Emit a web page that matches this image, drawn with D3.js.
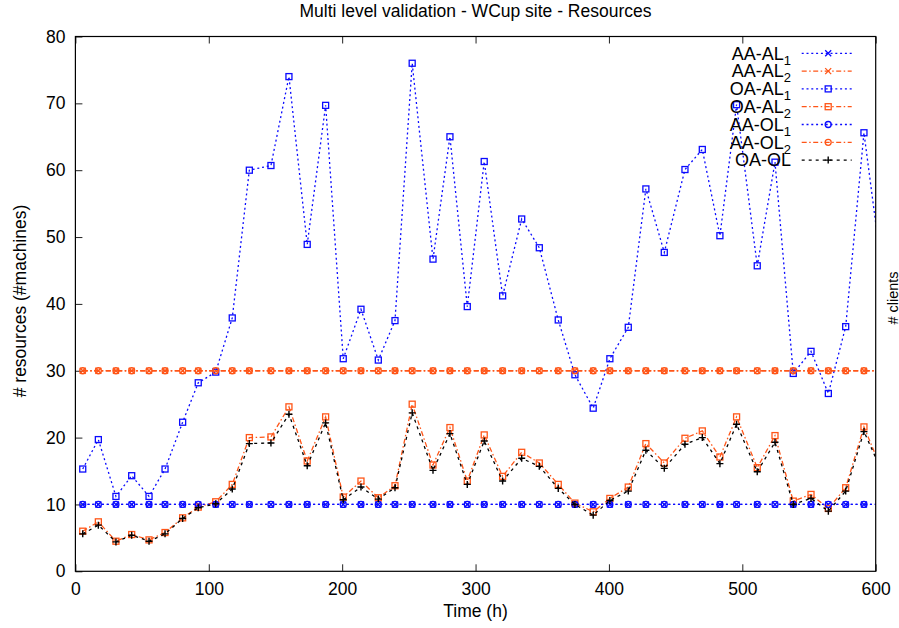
<!DOCTYPE html>
<html><head><meta charset="utf-8">
<script src="https://cdn.jsdelivr.net/npm/d3@7"></script>
<style>
html,body{margin:0;padding:0;background:#fff;}
svg text{font-family:"Liberation Sans",Arial,Helvetica,sans-serif;fill:#000;}
</style></head>
<body><svg id="chart" width="899" height="628"></svg>
<script>
const hours = [5.5,17.2,30.4,42.2,55.2,67.2,80.4,92.1,105.2,117.6,130.4,146.6,160.1,173.8,187.6,200.8,214.1,227.1,239.6,252.5,268.1,280.8,293.8,306.5,320.3,334.6,347.8,362.0,374.5,388.2,400.7,414.5,427.7,441.5,457.0,470.0,483.2,495.7,511.2,524.5,538.2,551.5,564.5,577.5,591.2,604.5];
const aaAl1 = [10,10,10,10,10,10,10,10,10,10,10,10,10,10,10,10,10,10,10,10,10,10,10,10,10,10,10,10,10,10,10,10,10,10,10,10,10,10,10,10,10,10,10,10,10,10];
const aaAl2 = [30,30,30,30,30,30,30,30,30,30,30,30,30,30,30,30,30,30,30,30,30,30,30,30,30,30,30,30,30,30,30,30,30,30,30,30,30,30,30,30,30,30,30,30,30,30];
const oaAl1 = [15.3,19.7,11.2,14.3,11.2,15.3,22.3,28.2,29.8,37.9,60.0,60.7,74.0,48.9,69.7,31.8,39.2,31.6,37.5,76.0,46.7,65.0,39.6,61.3,41.2,52.7,48.4,37.6,29.4,24.4,31.8,36.5,57.2,47.7,60.1,63.1,50.2,69.8,45.7,61.2,29.6,32.9,26.6,36.6,65.6,45.2];
const oaAl2 = [6.0,7.4,4.5,5.5,4.7,5.8,8.0,9.6,10.4,13.0,20.0,20.1,24.6,16.5,23.1,11.1,13.5,11.0,12.8,25.0,15.9,21.5,13.5,20.4,14.2,17.8,16.2,13.0,10.2,8.9,10.9,12.6,19.1,16.2,19.9,21.0,17.1,23.1,15.5,20.3,10.5,11.5,9.4,12.5,21.6,15.2];
const aaOl1 = [10,10,10,10,10,10,10,10,10,10,10,10,10,10,10,10,10,10,10,10,10,10,10,10,10,10,10,10,10,10,10,10,10,10,10,10,10,10,10,10,10,10,10,10,10,10];
const aaOl2 = [30,30,30,30,30,30,30,30,30,30,30,30,30,30,30,30,30,30,30,30,30,30,30,30,30,30,30,30,30,30,30,30,30,30,30,30,30,30,30,30,30,30,30,30,30,30];
const oaOl = [5.6,6.9,4.4,5.4,4.5,5.6,7.9,9.5,10.1,12.3,19.1,19.2,23.5,15.8,22.2,10.7,12.6,10.8,12.5,23.7,15.1,20.6,13.0,19.5,13.5,16.9,15.7,12.4,10.0,8.4,10.6,12.0,18.1,15.4,19.0,20.0,16.1,22.0,14.9,19.3,10.0,10.9,9.0,12.0,20.9,15.0];
const seriesLabels = ["AA-AL","AA-AL","OA-AL","OA-AL","AA-OL","AA-OL","OA-OL"];
const seriesSubs = ["1","2","1","2","1","2",""];
const xTicks = [0,100,200,300,400,500,600];
const yTicks = [0,10,20,30,40,50,60,70,80];
const titleText = "Multi level validation - WCup site - Resources";
const xLabel = "Time (h)";
const yLabel = "# resources (#machines)";
const y2Label = "# clients";

const BLUE = "#0a0aff", ORANGE = "#ff5517", BLACK = "#000";
const styles = [
  {color:BLUE, dash:"2,2.8", marker:"cross"},
  {color:ORANGE, dash:"5,2.5,1.5,2.5", marker:"cross"},
  {color:BLUE, dash:"2,2.8", marker:"square"},
  {color:ORANGE, dash:"5,2.5,1.5,2.5", marker:"square"},
  {color:BLUE, dash:"2,2.8", marker:"circle"},
  {color:ORANGE, dash:"5,2.5,1.5,2.5", marker:"circle"},
  {color:BLACK, dash:"3,4", marker:"plus"}
];
const seriesData = [aaAl1, aaAl2, oaAl1, oaAl2, aaOl1, aaOl2, oaOl];

const svg = d3.select("#chart");
const L = 75.4, R = 875.7, T = 36.5, B = 571.3;
const x = d3.scaleLinear().domain([0,600]).range([L,R]);
const y = d3.scaleLinear().domain([0,80]).range([B,T]);

svg.append("defs").append("clipPath").attr("id","clip")
  .append("rect").attr("x",L).attr("y",T).attr("width",R-L).attr("height",B-T);

// axes
const ax = svg.append("g").attr("transform",`translate(0,${B})`)
  .call(d3.axisBottom(x).tickValues(xTicks).tickSize(-7).tickPadding(11.5).tickFormat(d3.format("d")));
const axT = svg.append("g").attr("transform",`translate(0,${T})`)
  .call(d3.axisTop(x).tickValues(xTicks).tickSize(-7).tickFormat(""));
const ay = svg.append("g").attr("transform",`translate(${L},0)`)
  .call(d3.axisLeft(y).tickValues(yTicks).tickSize(-7).tickPadding(10).tickFormat(d3.format("d")));
[ax,axT,ay].forEach(g=>{
  g.select(".domain").remove();
  g.selectAll(".tick line").attr("stroke","#222").attr("stroke-width",1);
  g.selectAll(".tick text").attr("font-size","17.5px").attr("fill","#000")
   .style("font-family",'"Liberation Sans",Arial,sans-serif');
});

function drawMarker(g, px, py, type, color){
  const s = 3;
  if(type==="cross"){
    g.append("path").attr("d",`M${px-s},${py-s}L${px+s},${py+s}M${px-s},${py+s}L${px+s},${py-s}`)
      .attr("stroke",color).attr("stroke-width",1.3).attr("fill","none");
  } else if(type==="square"){
    g.append("rect").attr("x",px-3).attr("y",py-3).attr("width",6).attr("height",6)
      .attr("stroke",color).attr("stroke-width",1.3).attr("fill","none");
  } else if(type==="circle"){
    g.append("circle").attr("cx",px).attr("cy",py).attr("r",3)
      .attr("stroke",color).attr("stroke-width",1.3).attr("fill","none");
  } else if(type==="plus"){
    g.append("path").attr("d",`M${px-3.5},${py}h7M${px},${py-3.5}v7`)
      .attr("stroke",color).attr("stroke-width",1.4).attr("fill","none");
  }
}

const line = d3.line().x(d=>x(d[0])).y(d=>y(d[1]));
const plot = svg.append("g");
const legendX1 = 801.7, legendX2 = 851.7, legendTextX = 791, legendY0 = 53.3, legendStep = 17.8;

seriesData.forEach((vals,i)=>{
  const st = styles[i];
  const pts = hours.map((h,k)=>[h, vals[k]]);
  const g = plot.append("g");
  g.append("path").datum(pts).attr("d",line).attr("clip-path","url(#clip)")
    .attr("fill","none").attr("stroke",st.color).attr("stroke-width",1.3)
    .attr("stroke-dasharray",st.dash);
  const mg = g.append("g");
  pts.filter(p=>p[0]<=600).forEach(p=>drawMarker(mg, x(p[0]), y(p[1]), st.marker, st.color));
  // legend entry
  const ly = legendY0 + i*legendStep;
  const t = svg.append("text").attr("x",legendTextX).attr("y",ly+6.3)
    .attr("text-anchor","end").attr("font-size","18px");
  t.append("tspan").text(seriesLabels[i]);
  if(seriesSubs[i]) t.append("tspan").attr("font-size","13px").attr("dy",5).text(seriesSubs[i]);
  svg.append("line").attr("x1",legendX1).attr("x2",legendX2).attr("y1",ly).attr("y2",ly)
    .attr("stroke",st.color).attr("stroke-width",1.3).attr("stroke-dasharray",st.dash);
  drawMarker(svg, (legendX1+legendX2)/2+1.5, ly, st.marker, st.color);
});

// border
svg.append("rect").attr("x",L).attr("y",T).attr("width",R-L).attr("height",B-T)
  .attr("fill","none").attr("stroke","#000").attr("stroke-width",1.2);

// titles
svg.append("text").attr("x",475.5).attr("y",16.7).attr("text-anchor","middle")
  .attr("font-size","17.5px").text(titleText);
svg.append("text").attr("x",475.5).attr("y",617).attr("text-anchor","middle")
  .attr("font-size","17.5px").text(xLabel);
svg.append("text").attr("transform","translate(26,301) rotate(-90)").attr("text-anchor","middle")
  .attr("font-size","17.5px").text(yLabel);
svg.append("text").attr("transform","translate(898,298) rotate(-90)").attr("text-anchor","middle")
  .attr("font-size","14.5px").text(y2Label);
</script></body></html>
